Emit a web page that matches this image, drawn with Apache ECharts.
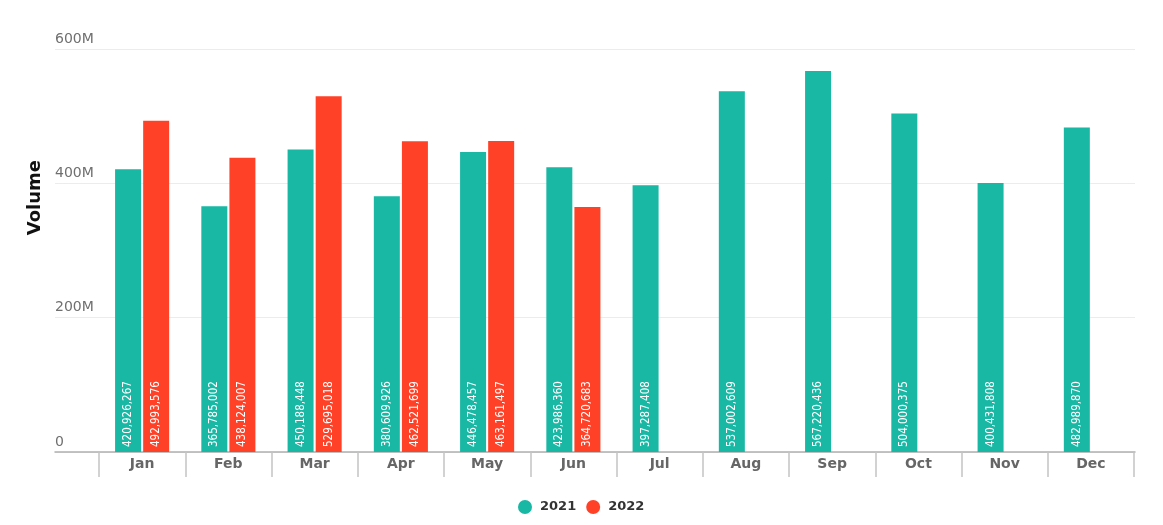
<!DOCTYPE html>
<html>
<head>
<meta charset="utf-8">
<script src="https://cdn.jsdelivr.net/npm/echarts@6/dist/echarts.min.js"></script>
<style>
html,body{margin:0;padding:0;background:#fff;}
#chart{width:1163px;height:525px;}
</style>
</head>
<body>
<div id="chart"></div>
<script>
const months = ['Jan','Feb','Mar','Apr','May','Jun','Jul','Aug','Sep','Oct','Nov','Dec'];
const vol2021 = [420926267, 365785002, 450188448, 380609926, 446478457, 423986360, 397287408, 537002609, 567220436, 504000375, 400431808, 482989870];
const vol2022 = [492993576, 438124007, 529695018, 462521699, 463161497, 364720683, null, null, null, null, null, null];
const yTicks = [0, 200000000, 400000000, 600000000];

const chart = echarts.init(document.getElementById('chart'));
const fmtNum = v => v.toLocaleString('en-US');
const fmtAxis = v => v === 0 ? '0' : (v / 1e6) + 'M';

const barLabel = {
  show: true,
  position: 'insideBottom',
  rotate: 90,
  align: 'left',
  verticalAlign: 'middle',
  distance: 5,
  color: '#fff',
  fontSize: 11.5,
  fontFamily: 'DejaVu Sans Condensed',
  formatter: p => fmtNum(p.value)
};

chart.setOption({
  animation: false,
  grid: [
    {left: 55, right: 28, top: 49, bottom: 73},
    {left: 99, right: 29, top: 49, bottom: 73}
  ],
  xAxis: [
    {gridIndex: 0, type: 'value', min: 0, max: 1, show: true,
     axisLine: {show: true, lineStyle: {color: '#b0b0b0', width: 1.5}},
     axisTick: {show: false}, axisLabel: {show: false}, splitLine: {show: false}},
    {gridIndex: 1, type: 'category', data: months,
     axisLine: {show: false},
     axisTick: {show: true, length: 25, lineStyle: {color: '#c4c4c4', width: 1.5}},
     axisLabel: {color: '#666', fontSize: 14, fontWeight: 'bold', fontFamily: 'DejaVu Sans', margin: 5}}
  ],
  yAxis: [
    {gridIndex: 0, type: 'value', min: 0, max: yTicks[yTicks.length - 1], interval: 200000000,
     axisLine: {show: false}, axisTick: {show: false},
     axisLabel: {inside: true, align: 'left', verticalAlign: 'bottom', margin: 0, padding: [0, 0, 3, 0],
                 color: '#6f6f6f', fontSize: 14, fontFamily: 'DejaVu Sans', formatter: fmtAxis},
     splitLine: {show: true, lineStyle: {color: '#ececec', width: 1}}},
    {gridIndex: 1, type: 'value', min: 0, max: yTicks[yTicks.length - 1], show: false, splitLine: {show: false}}
  ],
  legend: {
    bottom: 6, left: 513, icon: 'circle', itemWidth: 14, itemHeight: 14, itemGap: 10,
    textStyle: {color: '#333', fontSize: 13, fontWeight: 'bold', fontFamily: 'DejaVu Sans', padding: [0, 0, 0, 3]},
    data: ['2021', '2022']
  },
  graphic: [{
    type: 'text', left: 26, top: 160, rotation: Math.PI / 2,
    style: {text: 'Volume', fill: '#111', font: 'bold 18px "DejaVu Sans"'}
  }],
  series: [
    {name: '2021', type: 'bar', xAxisIndex: 1, yAxisIndex: 1, data: vol2021,
     barWidth: 26, barGap: '8%', itemStyle: {color: '#19B8A5'}, label: barLabel},
    {name: '2022', type: 'bar', xAxisIndex: 1, yAxisIndex: 1, data: vol2022,
     barWidth: 26, barGap: '8%', itemStyle: {color: '#FF4127'}, label: barLabel}
  ]
});
</script>
</body>
</html>
